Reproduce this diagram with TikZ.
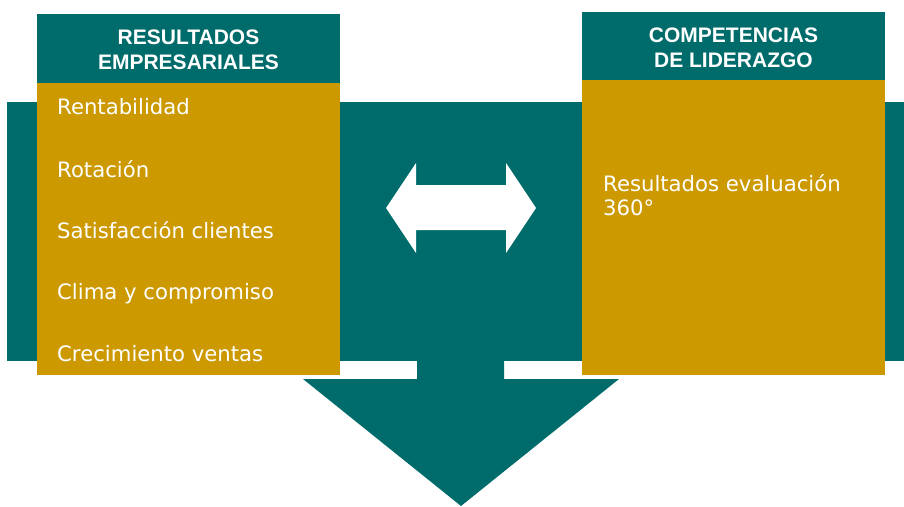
\documentclass[tikz,border=0pt]{standalone}
\usepackage{fontspec}
\setmainfont{DejaVu Sans}
\newfontfamily\headfont{Liberation Sans}
\definecolor{petrol}{RGB}{0,107,107}
\definecolor{mustard}{RGB}{204,153,0}
\tikzset{
  headtext/.style={text=white, align=center, inner sep=0,
    font=\headfont\bfseries\fontsize{21}{25}\selectfont},
  itemtext/.style={text=white, anchor=base west, inner sep=0,
    font=\fontsize{21.2}{24}\selectfont}
}

\begin{document}
\begin{tikzpicture}[x=1pt,y=-1pt]
	%%%%% START %%%%%
	\useasboundingbox (0,0) rectangle (904,506);
	
	\fill[petrol] (7,102) rectangle (904,361);
	\fill[petrol] (417,361) -- (417,379) -- (303,379) -- (461,506) -- (619,379) -- (504,379) -- (504,361) -- cycle;
	
	\fill[petrol] (37,14) rectangle (340,83);
	\fill[mustard] (37,83) rectangle (340,375);
	\fill[petrol] (582,12) rectangle (885,80);
	\fill[mustard] (582,80) rectangle (885,375);
	
	\fill[white] (386,208) -- (416,163) -- (416,185) -- (506,185) -- (506,163) -- (536,208)
		-- (506,253) -- (506,230) -- (416,230) -- (416,253) -- cycle;
	
	\node[headtext] (resHead) at (188.5,49.3) {RESULTADOS\\EMPRESARIALES};
	\node[headtext] (compHead) at (733.5,47.9) {COMPETENCIAS\\DE LIDERAZGO};
	
	\node[itemtext] (rent) at (57,114) {Rentabilidad};
	\node[itemtext] (rot) at (57,177) {Rotación};
	\node[itemtext] (satis) at (57,238) {Satisfacción clientes};
	\node[itemtext] (clima) at (57,299) {Clima y compromiso};
	\node[itemtext] (crec) at (57,361) {Crecimiento ventas};
	
	\node[itemtext, align=left] (eval) at (603,215) {Resultados evaluación\\360°};
	%%%%% END %%%%%
\end{tikzpicture}
\end{document}
